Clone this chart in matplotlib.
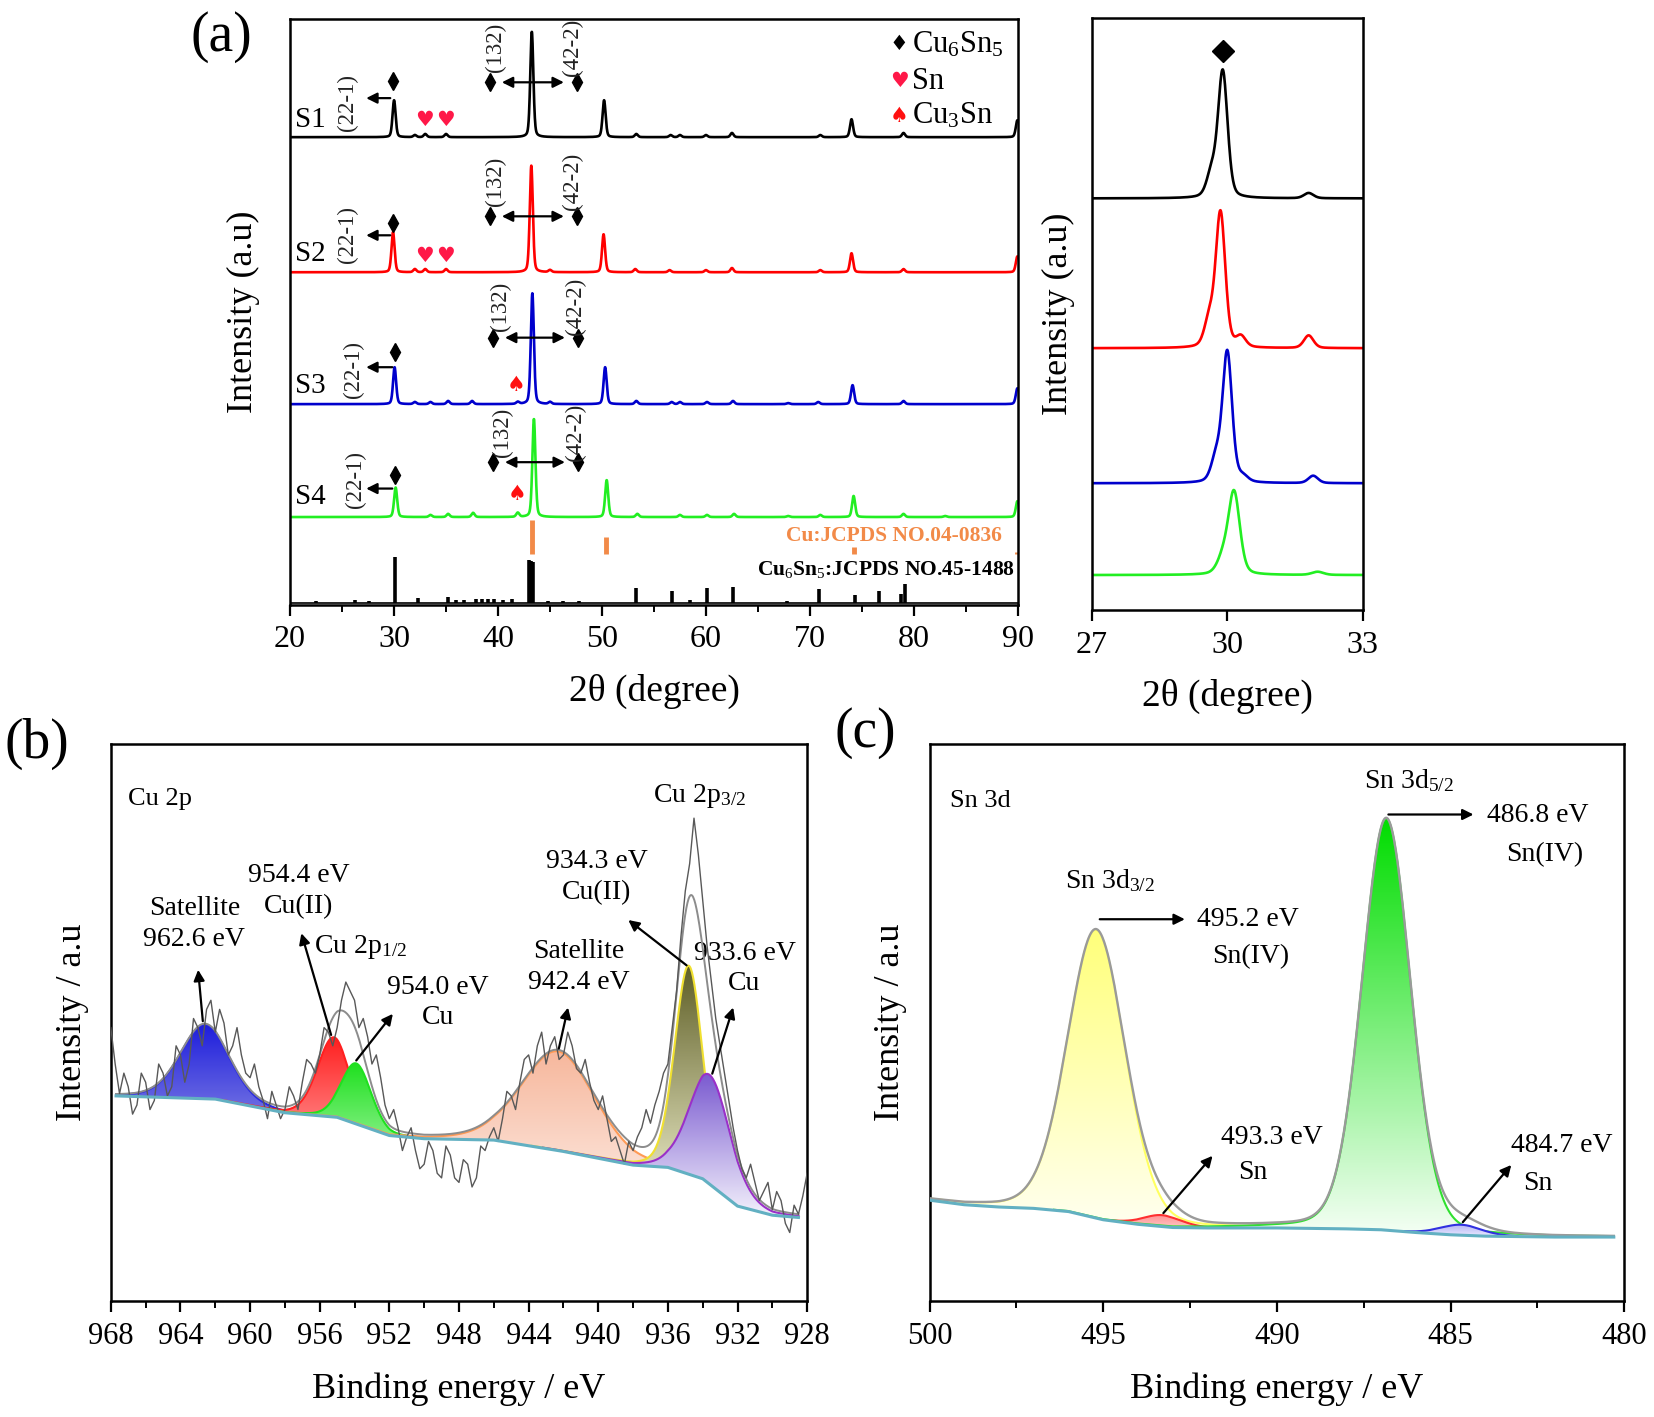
import numpy as np
import matplotlib.pyplot as plt
from matplotlib.colors import LinearSegmentedColormap
from matplotlib.path import Path
from matplotlib.patches import PathPatch

plt.rcParams['font.family'] = ['Liberation Serif', 'DejaVu Sans']
plt.rcParams['mathtext.fontset'] = 'custom'
plt.rcParams['mathtext.rm'] = 'Liberation Serif'
plt.rcParams['mathtext.default'] = 'rm'

# ---------------- (a) XRD patterns ----------------
xrd_names = ['S1', 'S2', 'S3', 'S4']
xrd_colors = ['black', 'red', '#0000CC', '#22EE22']
xrd_base = [443, 315, 190, 83]
s1_pos = [30.0, 32.0, 33.0, 35.0, 43.25, 50.2, 53.3, 56.6, 57.5, 60.0, 62.5, 71.0, 74.0, 79.0, 89.95]
s1_h = [35, 2, 3, 3, 100, 35, 3, 2, 2, 2, 4, 2, 17, 4, 16]
s2_pos = [29.9, 32.0, 33.0, 35.0, 43.2, 45.0, 50.15, 53.2, 56.5, 60.0, 62.5, 71.0, 74.0, 79.0, 89.95]
s2_h = [38, 3, 3, 3, 101, 2, 36, 3, 2, 2, 4, 2, 18, 3, 15]
s3_pos = [30.05, 32.0, 33.5, 35.2, 37.5, 41.9, 43.3, 45.0, 50.3, 53.3, 56.7, 57.5, 60.1, 62.6, 67.9, 70.8, 74.1, 79.0, 89.95]
s3_h = [35, 2, 2, 3, 3, 2, 105, 2, 35, 3, 2, 2, 2, 3, 1, 2, 18, 3, 15]
s4_pos = [30.15, 33.5, 35.2, 37.6, 41.9, 43.45, 50.45, 53.4, 57.5, 60.1, 62.7, 67.9, 71.0, 74.2, 79.0, 83.0, 89.95]
s4_h = [28, 2, 3, 4, 4, 93, 35, 3, 2, 2, 3, 1, 2, 20, 3, 1, 15]
xrd_pos = [s1_pos, s2_pos, s3_pos, s4_pos]
xrd_h = [s1_h, s2_h, s3_h, s4_h]
xrd_fwhm = 0.35

# annotation offsets above each baseline
d30_x = [29.9, 29.9, 30.1, 30.1]
d30_dy = [53, 47, 49, 40]
arr221_dy = [37, 35, 35, 27]
t221_x = [25.5, 25.5, 26.1, 26.3]
t221_dy = [33, 36, 33, 36]
d132_xl = [39.2, 39.2, 39.5, 39.5]
d132_xr = [47.6, 47.6, 47.7, 47.7]
d132_dy = [52, 53, 63, 52]
t132_x = [39.75, 39.75, 40.2, 40.4]
t422_x = [47.2, 47.2, 47.4, 47.4]
t132_dy = [85, 86, 93, 80]
lab_dy = [16, 17, 17, 19]
sn_x = [32.96, 34.9]
sn_dy = [16, 15]
cu3sn_x = [41.7, 41.85]
cu3sn_dy = [18, 22]

# reference sticks
ref_cu6sn5_pos = [22.5, 26.2, 27.6, 30.1, 32.3, 35.2, 36.0, 36.7, 37.9, 38.5, 39.0, 39.6, 40.5, 41.3,
                  43.0, 43.2, 43.4, 44.8, 46.2, 47.8, 53.3, 56.7, 58.5, 60.1, 62.6, 67.8, 70.9,
                  74.3, 76.6, 78.8, 79.1]
ref_cu6sn5_h = [1, 2, 1, 43, 4, 5, 2, 2, 3, 3, 3, 3, 2, 3,
                40, 39, 38, 1, 1, 1, 14, 11, 2, 14, 15, 1, 13,
                7, 11, 8, 18]
ref_cu_pos = [43.3, 50.4, 74.2, 89.9]
ref_cu_top = [80, 64, 55, 50]
ref_cu_bottom = 48
ref_base = 2

# (a) zoom window 27-33
zoom_base = [390, 248, 120, 33]
z_pos = [[29.65, 29.9, 31.8], [29.6, 29.85, 30.3, 31.8], [29.75, 30.0, 30.35, 31.9], [29.9, 30.15, 32.0]]
z_h = [[22, 120, 5], [25, 128, 10, 12], [22, 124, 5, 7], [14, 78, 3]]
z_w = [0.25, 0.25, 0.25, 0.3]

# ---------------- (b) Cu 2p XPS ----------------
cu_raw_e = np.arange(968, 927.9, -0.25)
cu_raw = [600, 520, 455, 500, 470, 410, 430, 500,
          480, 420, 440, 520, 500, 450, 470, 560,
          540, 480, 520, 620, 600, 560, 640, 660,
          590, 640, 610, 540, 560, 600, 540, 500,
          490, 520, 470, 440, 400, 460, 430, 400,
          420, 470, 450, 420, 480, 530, 520, 500,
          540, 600, 590, 560, 600, 660, 700, 680,
          660, 600, 620, 580, 520, 540, 490, 430,
          400, 420, 380, 330, 360, 380, 330, 290,
          300, 350, 330, 280, 270, 340, 320, 270,
          260, 310, 300, 250, 270, 340, 330, 360,
          380, 350, 400, 460, 450, 420, 480, 530,
          540, 500, 560, 590, 520, 560, 580, 530,
          540, 590, 560, 510, 500, 530, 480, 440,
          420, 450, 400, 350, 360, 330, 300, 350,
          330, 360, 380, 420, 390, 430, 460, 500,
          520, 600, 680, 800, 900, 960, 1060, 980,
          880, 780, 700, 620, 560, 500, 440, 380,
          330, 290, 270, 300, 260, 220, 240, 260,
          200, 240, 220, 170, 150, 210, 190, 230,
          280]
cu_bg_e = [928.5, 930, 932, 933, 934, 936, 938, 942, 946, 950, 952, 955, 958, 962, 967.7]
cu_bg_y = [183, 188, 208, 238, 268, 293, 298, 328, 353, 356, 363, 403, 413, 443, 450]
cu_comp_c = [962.6, 955.2, 953.9, 942.3, 934.8, 933.6]
cu_comp_h = [163, 175, 133, 218, 458, 240]
cu_comp_w = [3.3, 2.2, 2.0, 5.0, 1.9, 2.8]
cu_comp_top = ['#1E1EDC', '#FF1E1E', '#1EE01E', '#F7B79C', '#5E5E26', '#7A5AD0']
cu_comp_bot = ['#CFCFEA', '#FFE0E0', '#E6FFE6', '#FDEFE9', '#FAFAD8', '#F4F2FC']
cu_comp_edge = ['#2A2AE0', '#FF2020', '#20E020', '#FF9A55', '#F0E030', '#9A30C8']

# ---------------- (c) Sn 3d XPS ----------------
sn_bg_e = [480.3, 482, 484, 485, 486, 487, 488, 490, 492, 493, 494, 495, 496, 497, 498, 499, 500]
sn_bg_y = [140, 140, 142, 145, 150, 156, 158, 160, 160, 161, 168, 178, 196, 203, 206, 211, 221]
sn_comp_c = [495.2, 493.3, 486.85, 484.7]
sn_comp_h = [633, 25, 904, 23]
sn_comp_w = [1.95, 1.3, 1.65, 1.4]
sn_comp_top = ['#FFFF7A', '#FF5A5A', '#00DD00', '#4A4AE0']
sn_comp_bot = ['#FFFFF4', '#FFE8E8', '#F6FFF6', '#ECECFF']
sn_comp_edge = ['#FFFF60', '#FF3030', '#30E030', '#3030E0']


def peaks(x, pos, hts, w, eta=0.3):
    y = np.zeros_like(x)
    for c, h in zip(pos, hts):
        d = (x - c) / w
        y = y + h * ((1 - eta) * np.exp(-4 * np.log(2) * d ** 2) + eta / (1 + 4 * d ** 2))
    return y


def grad_fill(ax, x, ylo, yhi, ctop, cbot, edge, z):
    verts = np.concatenate([np.column_stack([x, yhi]), np.column_stack([x[::-1], ylo[::-1]])])
    patch = PathPatch(Path(verts), facecolor='none', edgecolor='none')
    ax.add_patch(patch)
    cmap = LinearSegmentedColormap.from_list('g', [cbot, ctop])
    g = np.linspace(0, 1, 256).reshape(-1, 1)
    im = ax.imshow(g, cmap=cmap, origin='lower', aspect='auto', interpolation='bilinear',
                   extent=[x.min(), x.max(), ylo.min(), yhi.max()], zorder=z)
    im.set_clip_path(patch)
    m = (yhi - ylo) > 1.0
    ax.plot(np.where(m, x, np.nan), yhi, color=edge, lw=1.5, zorder=z + 0.1)


def style(ax, fs=22):
    for s in ax.spines.values():
        s.set_linewidth(1.8)
    ax.set_yticks([])
    ax.tick_params(axis='x', which='major', direction='out', length=8, width=1.6, labelsize=fs, pad=7)
    ax.tick_params(axis='x', which='minor', direction='out', length=5, width=1.4)


fig = plt.figure(figsize=(16.54, 14.17), dpi=100)

# ---- (a) main
ax = fig.add_axes([0.1754, 0.5733, 0.44, 0.4133])
tt = np.arange(20, 90.001, 0.02)
for i in range(4):
    y = xrd_base[i] + peaks(tt, xrd_pos[i], xrd_h[i], xrd_fwhm)
    ax.plot(tt, y, color=xrd_colors[i], lw=1.9)
    b = xrd_base[i]
    ax.text(20.5, b + lab_dy[i], xrd_names[i], fontsize=21, ha='left', va='center')
    ax.plot(d30_x[i], b + d30_dy[i], 'kd', ms=9)
    ax.annotate('', xy=(27.05, b + arr221_dy[i]), xytext=(d30_x[i], b + arr221_dy[i]),
                arrowprops=dict(arrowstyle='-|>', color='k', lw=1.6, mutation_scale=16))
    ax.text(t221_x[i], b + t221_dy[i], '(22-1)', rotation=90, fontsize=16.5, ha='center', va='center', color='#222222')
    ax.plot([d132_xl[i], d132_xr[i]], [b + d132_dy[i]] * 2, 'kd', ms=9, ls='none')
    ax.annotate('', xy=(d132_xl[i] + 0.9, b + d132_dy[i]), xytext=(d132_xr[i] - 1.0, b + d132_dy[i]),
                arrowprops=dict(arrowstyle='<|-|>', color='k', lw=1.6, mutation_scale=16))
    ax.text(t132_x[i], b + t132_dy[i], '(132)', rotation=90, fontsize=16.5, ha='center', va='center', color='#222222')
    ax.text(t422_x[i], b + t132_dy[i], '(42-2)', rotation=90, fontsize=16.5, ha='center', va='center', color='#222222')
    if i < 2:
        for sx in sn_x:
            ax.text(sx, b + sn_dy[i], '♥', fontsize=15, color='#FF1848', ha='center', va='center',
                    family=['DejaVu Sans'])
    else:
        ax.text(cu3sn_x[i - 2], b + cu3sn_dy[i - 2], '♠', fontsize=15, color='#FF1010', ha='center',
                va='center', family=['DejaVu Sans'])

ax.vlines(ref_cu6sn5_pos, ref_base, np.array(ref_cu6sn5_h) + ref_base, color='k', lw=2.6)
ax.axhline(ref_base, color='k', lw=1.2, xmin=0, xmax=1)
ax.vlines(ref_cu_pos, ref_cu_bottom, ref_cu_top, color='#F28A48', lw=3.5)
ax.text(88.5, 65, 'Cu:JCPDS NO.04-0836', color='#F28A48', fontsize=15.5, fontweight='bold', ha='right', va='center')
ax.text(89.7, 33, 'Cu$_6$Sn$_5$:JCPDS NO.45-1488', color='k', fontsize=15.5, fontweight='bold', ha='right', va='center')

# legend
leg_sym = ['♦', '♥', '♠']
leg_col = ['k', '#FF1848', '#FF1010']
leg_txt = ['Cu$_6$Sn$_5$', 'Sn', 'Cu$_3$Sn']
leg_y = [531, 496, 463]
for s, c, t, ly in zip(leg_sym, leg_col, leg_txt, leg_y):
    ax.text(78.6, ly, s, color=c, fontsize=15, ha='center', va='center', family=['DejaVu Sans'])
    ax.text(79.8, ly, t, fontsize=22, ha='left', va='center')

ax.set_xlim(20, 90)
ax.set_ylim(0, 555)
ax.set_xticks(range(20, 91, 10))
ax.set_xticks(range(25, 90, 10), minor=True)
style(ax, 23)
ax.set_xlabel('2θ (degree)', fontsize=27, labelpad=14)
ax.set_ylabel('Intensity (a.u)', fontsize=26, labelpad=22)

# ---- (a) zoom window
az = fig.add_axes([0.660, 0.5696, 0.164, 0.4177])
tz = np.arange(27, 33.001, 0.01)
for i in range(4):
    az.plot(tz, zoom_base[i] + peaks(tz, z_pos[i], z_h[i], z_w[i]), color=xrd_colors[i], lw=1.9)
az.plot(29.9, 530, 'kD', ms=11)
az.set_xlim(27, 33)
az.set_ylim(0, 561)
az.set_xticks([27, 30, 33])
style(az, 23)
az.set_xlabel('2θ (degree)', fontsize=27, labelpad=14)
az.set_ylabel('Intensity (a.u)', fontsize=26, labelpad=12)

# ---- (b) Cu 2p
bx = fig.add_axes([0.067, 0.082, 0.421, 0.393])
eb = np.linspace(928.5, 967.7, 1200)
bgb = np.interp(eb, cu_bg_e, cu_bg_y)
env = bgb.copy()
for k in range(len(cu_comp_c)):
    comp = peaks(eb, [cu_comp_c[k]], [cu_comp_h[k]], cu_comp_w[k], eta=0.2)
    env = env + comp
    grad_fill(bx, eb, bgb, bgb + comp, cu_comp_top[k], cu_comp_bot[k], cu_comp_edge[k], 2 + k)
bx.plot(eb, env, color='#8C8C8C', lw=1.4, zorder=10)
bx.plot(cu_raw_e, cu_raw, color='#585858', lw=1.0, zorder=11)
bx.plot(cu_bg_e, cu_bg_y, color='#62B0C2', lw=2.2, zorder=12)

bx.text(967.0, 1103, 'Cu 2p', fontsize=19, ha='left', va='center')
bx.text(934.2, 1108, 'Cu 2p$_{3/2}$', fontsize=20, ha='center', va='center')
bx.text(940.1, 930, '934.3 eV\nCu(II)', fontsize=20, ha='center', va='center', linespacing=1.3)
bx.text(931.6, 730, '933.6 eV\nCu', fontsize=20, ha='center', va='center', linespacing=1.3)
bx.text(941.1, 733, 'Satellite\n942.4 eV', fontsize=20, ha='center', va='center', linespacing=1.3)
bx.text(963.2, 828, 'Satellite\n962.6 eV', fontsize=20, ha='center', va='center', linespacing=1.3)
bx.text(957.2, 900, '954.4 eV\nCu(II)', fontsize=20, ha='center', va='center', linespacing=1.3)
bx.text(956.3, 778, 'Cu 2p$_{1/2}$', fontsize=20, ha='left', va='center')
bx.text(949.2, 655, '954.0 eV\nCu', fontsize=20, ha='center', va='center', linespacing=1.3)
arrows_b = [((934.8, 733), (938.4, 840)), ((933.5, 493), (932.2, 650)), ((942.3, 548), (941.7, 650)),
            ((962.7, 608), (963.0, 733)), ((955.3, 578), (957.1, 813)), ((954.0, 523), (951.7, 635))]
for (x0, y0), (x1, y1) in arrows_b:
    bx.annotate('', xy=(x1, y1), xytext=(x0, y0), zorder=15,
                arrowprops=dict(arrowstyle='-|>', color='k', lw=1.6, mutation_scale=16))
bx.set_xlim(968, 928)
bx.set_ylim(0, 1223)
bx.set_xticks(range(968, 927, -4))
bx.set_xticks(range(966, 928, -4), minor=True)
style(bx, 22)
bx.set_xlabel('Binding energy / eV', fontsize=26, labelpad=16)
bx.set_ylabel('Intensity / a.u', fontsize=26, labelpad=16)

# ---- (c) Sn 3d
cx = fig.add_axes([0.562, 0.082, 0.420, 0.393])
ec = np.linspace(480.3, 500, 1200)
bgc = np.interp(ec, sn_bg_e, sn_bg_y)
envc = bgc.copy()
for k in range(len(sn_comp_c)):
    comp = peaks(ec, [sn_comp_c[k]], [sn_comp_h[k]], sn_comp_w[k], eta=0.15)
    envc = envc + comp
    grad_fill(cx, ec, bgc, bgc + comp, sn_comp_top[k], sn_comp_bot[k], sn_comp_edge[k], 2 + k)
cx.plot(ec, envc, color='#9A9A9A', lw=1.7, zorder=10)
cx.plot(sn_bg_e, sn_bg_y, color='#62B0C2', lw=2.2, zorder=12)

cx.text(499.4, 1098, 'Sn 3d', fontsize=19, ha='left', va='center')
cx.text(486.2, 1143, 'Sn 3d$_{5/2}$', fontsize=20, ha='center', va='center')
cx.text(483.96, 1065, '486.8 eV', fontsize=20, ha='left', va='center')
cx.text(482.3, 980, 'Sn(IV)', fontsize=20, ha='center', va='center')
cx.text(494.8, 923, 'Sn 3d$_{3/2}$', fontsize=20, ha='center', va='center')
cx.text(492.3, 838, '495.2 eV', fontsize=20, ha='left', va='center')
cx.text(490.76, 756, 'Sn(IV)', fontsize=20, ha='center', va='center')
cx.text(490.15, 358, '493.3 eV', fontsize=20, ha='center', va='center')
cx.text(490.7, 281, 'Sn', fontsize=20, ha='center', va='center')
cx.text(481.8, 340, '484.7 eV', fontsize=20, ha='center', va='center')
cx.text(482.5, 258, 'Sn', fontsize=20, ha='center', va='center')
arrows_c = [((486.87, 1068), (484.26, 1068)), ((495.18, 838), (492.57, 838)),
            ((493.32, 188), (491.8, 323)), ((484.7, 168), (483.2, 303))]
for (x0, y0), (x1, y1) in arrows_c:
    cx.annotate('', xy=(x1, y1), xytext=(x0, y0), zorder=15,
                arrowprops=dict(arrowstyle='-|>', color='k', lw=1.6, mutation_scale=16))
cx.set_xlim(500, 480)
cx.set_ylim(0, 1223)
cx.set_xticks(range(500, 479, -5))
cx.set_xticks([497.5, 492.5, 487.5, 482.5], minor=True)
style(cx, 22)
cx.set_xlabel('Binding energy / eV', fontsize=26, labelpad=16)
cx.set_ylabel('Intensity / a.u', fontsize=26, labelpad=16)

fig.text(0.134, 0.974, '(a)', fontsize=40, ha='center', va='center')
fig.text(0.022, 0.475, '(b)', fontsize=40, ha='center', va='center')
fig.text(0.523, 0.4825, '(c)', fontsize=40, ha='center', va='center')

fig.savefig('out.png', dpi=100)
